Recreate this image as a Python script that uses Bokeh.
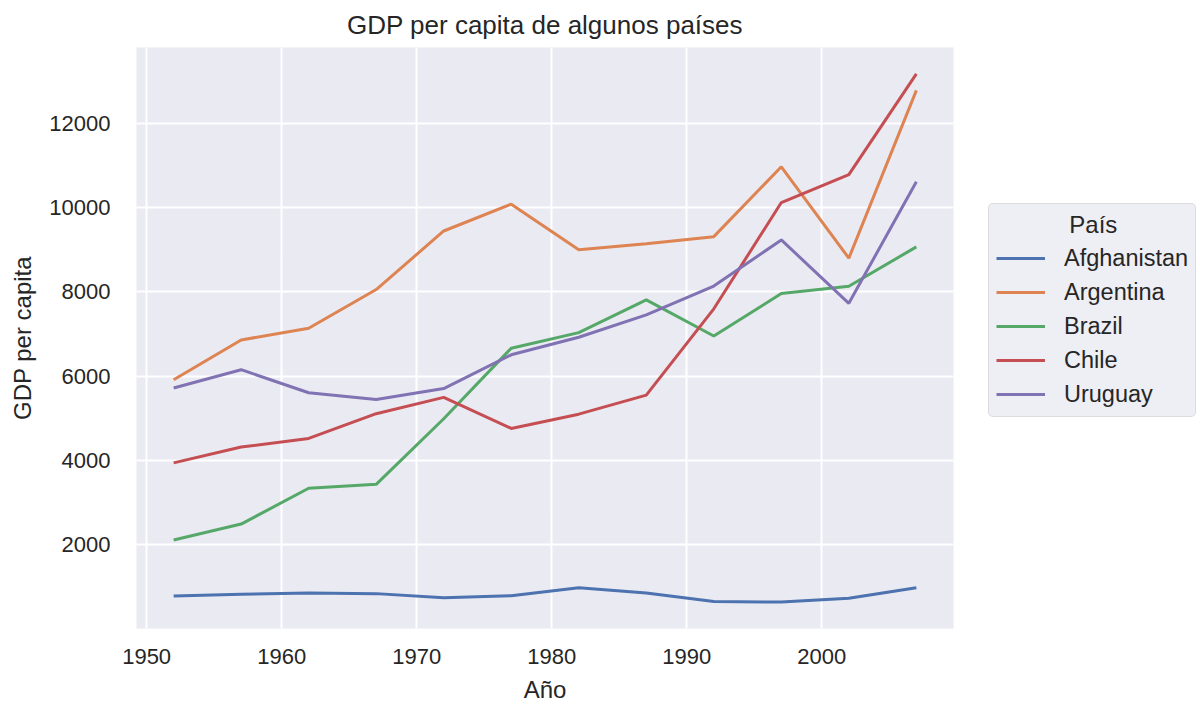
from bokeh.plotting import figure
from bokeh.models import Legend, LegendItem, Range1d, FixedTicker
from bokeh.embed import file_html
from bokeh.resources import INLINE

years = [1952, 1957, 1962, 1967, 1972, 1977, 1982, 1987, 1992, 1997, 2002, 2007]
afghanistan = [779.4, 820.9, 853.1, 836.2, 740.0, 786.1, 978.0, 852.4, 649.3, 635.3, 726.7, 974.6]
argentina = [5911.3, 6856.9, 7133.2, 8053.0, 9443.0, 10079.0, 8997.9, 9139.7, 9308.4, 10967.3, 8797.6, 12779.4]
brazil = [2108.9, 2487.4, 3336.6, 3429.9, 4985.7, 6660.1, 7030.8, 7807.1, 6950.3, 7958.0, 8131.2, 9065.8]
chile = [3940.0, 4315.6, 4519.1, 5106.7, 5494.0, 4756.8, 5095.7, 5547.1, 7596.1, 10118.1, 10778.8, 13171.6]
uruguay = [5716.8, 6150.8, 5603.4, 5444.6, 5703.4, 6504.3, 6920.2, 7452.4, 8137.0, 9230.2, 7727.0, 10611.5]

countries = ["Afghanistan", "Argentina", "Brazil", "Chile", "Uruguay"]
series = [afghanistan, argentina, brazil, chile, uruguay]
colors = ["#4C72B0", "#DD8452", "#55A868", "#C44E52", "#8172B3"]
x_ticks = [1950, 1960, 1970, 1980, 1990, 2000]
y_ticks = [2000, 4000, 6000, 8000, 10000, 12000]

FONT = "Liberation Sans"
TXT = "#262626"

p = figure(frame_width=817, frame_height=581, output_backend="svg", toolbar_location=None,
           x_range=Range1d(1949.25, 2009.75), y_range=Range1d(8.5, 13798),
           min_border_left=136, min_border_right=247, min_border_top=47, min_border_bottom=92,
           title="GDP per capita de algunos países")

p.background_fill_color = "#EAEAF2"
p.border_fill_color = "white"
p.outline_line_color = None

p.title.align = "center"
p.title.text_font = FONT
p.title.text_font_size = "26px"
p.title.text_font_style = "normal"
p.title.text_color = TXT
p.title.standoff = 15

for ax in (p.xaxis[0], p.yaxis[0]):
    ax.axis_line_color = None
    ax.major_tick_line_color = None
    ax.minor_tick_line_color = None
    ax.major_tick_out = 0
    ax.major_tick_in = 0
    ax.major_label_text_font = FONT
    ax.major_label_text_font_size = "22px"
    ax.major_label_text_color = TXT
    ax.axis_label_text_font = FONT
    ax.axis_label_text_font_size = "24px"
    ax.axis_label_text_font_style = "normal"
    ax.axis_label_text_color = TXT

p.xaxis.ticker = FixedTicker(ticks=x_ticks)
p.yaxis.ticker = FixedTicker(ticks=y_ticks)
p.xaxis.axis_label = "Año"
p.yaxis.axis_label = "GDP per capita"
p.xaxis.major_label_standoff = 20
p.yaxis.major_label_standoff = 26
p.xaxis.axis_label_standoff = 9
p.yaxis.axis_label_standoff = 10

p.xgrid.grid_line_color = "white"
p.ygrid.grid_line_color = "white"
p.xgrid.grid_line_width = 2
p.ygrid.grid_line_width = 2

items = []
for name, vals, col in zip(countries, series, colors):
    r = p.line(years, vals, line_color=col, line_width=3)
    items.append(LegendItem(label=name, renderers=[r]))

legend = Legend(items=items, location=(35, 211), margin=0,
                title="\u00a0" * 11 + "País", title_text_font=FONT, title_text_font_size="24px",
                title_text_color=TXT, title_text_font_style="normal", title_standoff=4,
                label_text_font=FONT, label_text_font_size="23.5px", label_text_color=TXT,
                glyph_width=49, glyph_height=30, label_height=30, spacing=4,
                label_standoff=19, padding=7,
                border_line_color="#CCCCCC", border_line_width=1.5,
                background_fill_color="#EAEAF2", background_fill_alpha=0.8)
if "border_radius" in Legend.properties():
    legend.border_radius = 5
p.add_layout(legend, "right")

open("out.html", "w").write(file_html(p, INLINE))
